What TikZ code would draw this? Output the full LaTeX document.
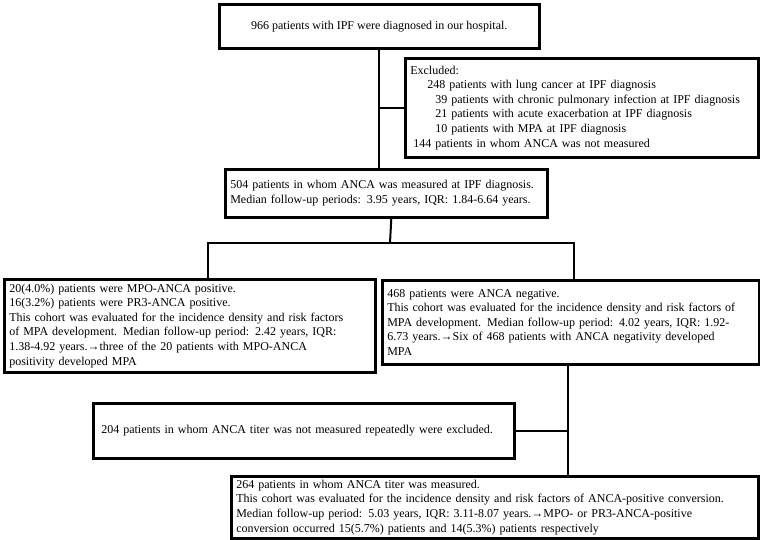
\documentclass[tikz,border=0pt]{standalone}
\usepackage{fontspec}
\setmainfont{Liberation Serif}

\begin{document}
\begin{tikzpicture}[x=1pt, y=1pt, font=\fontsize{12}{14.6}\selectfont,
    box/.style={draw, rectangle, line width=2.6pt, align=left, inner xsep=5pt, inner ysep=2pt, anchor=north west},
    link/.style={line width=2pt}]
    \useasboundingbox (0,0) rectangle (760,-540);
    % Nodes for cohort flow chart
    \node[box, align=center, minimum width=320pt, minimum height=44pt] (all) at (218,-3) {966 patients with IPF were diagnosed in our hospital.};
    \node[box, text width=343pt, minimum height=99pt] (excl) at (404,-57) {Excluded:\\
        \hspace*{17pt}248 patients with lung cancer at IPF diagnosis\\
        \hspace*{25pt}39 patients with chronic pulmonary infection at IPF diagnosis\\
        \hspace*{25pt}21 patients with acute exacerbation at IPF diagnosis\\
        \hspace*{25pt}10 patients with MPA at IPF diagnosis\\
        \hspace*{3pt}144 patients in whom ANCA was not measured};
    \node[box, text width=312pt, minimum height=48pt] (mid) at (224,-168) {504 patients in whom ANCA was measured at IPF diagnosis.\\
        Median follow-up periods: 3.95 years, IQR: 1.84-6.64 years.};
    \node[box, text width=361pt, minimum height=93pt] (pos) at (3,-278) {20(4.0\%) patients were MPO-ANCA positive.\\
        16(3.2\%) patients were PR3-ANCA positive.\\
        This cohort was evaluated for the incidence density and risk factors\\
        of MPA development. Median follow-up period: 2.42 years, IQR:\\
        1.38-4.92 years.→three of the 20 patients with MPO-ANCA\\
        positivity developed MPA};
    \node[box, text width=367pt, minimum height=84pt] (neg) at (381,-279) {468 patients were ANCA negative.\\
        This cohort was evaluated for the incidence density and risk factors of\\
        MPA development. Median follow-up period: 4.02 years, IQR: 1.92-\\
        6.73 years.→Six of 468 patients with ANCA negativity developed\\
        MPA};
    \node[box, inner xsep=8pt, text width=405pt, minimum height=55pt] (skip) at (92,-402) {204 patients in whom ANCA titer was not measured repeatedly were excluded.};
    \node[box, text width=517pt, minimum height=62pt] (titer) at (230,-475) {264 patients in whom ANCA titer was measured.\\
        This cohort was evaluated for the incidence density and risk factors of ANCA-positive conversion.\\
        Median follow-up period: 5.03 years, IQR: 3.11-8.07 years.→MPO- or PR3-ANCA-positive\\
        conversion occurred 15(5.7\%) patients and 14(5.3\%) patients respectively};

    % Connectors
    \coordinate (split) at (390,-243);
    \coordinate (drop) at ([xshift=-2.5pt]neg.south);
    \draw[link] (all.south) -- (all.south |- mid.north);
    \draw[link] (all.south |- excl.west) -- (excl.west);
    \draw[link] ([xshift=5pt]mid.south) -- (split);
    \draw[link] ([xshift=18pt]pos.north) |- (split) -| ([xshift=3pt]neg.north);
    \draw[link] (drop) -- (drop |- titer.north);
    \draw[link] (skip.east) -- (skip.east -| drop);
\end{tikzpicture}
\end{document}
